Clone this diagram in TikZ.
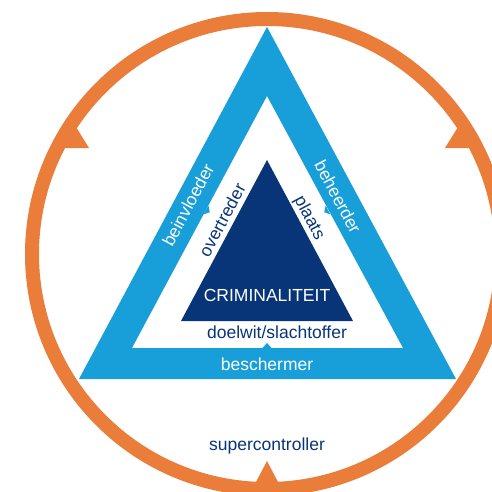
\documentclass[tikz,border=0pt]{standalone}
\usepackage{fontspec}
\setmainfont{Liberation Sans}
\definecolor{oranje}{RGB}{233,125,57}
\definecolor{lichtblauw}{RGB}{24,158,216}
\definecolor{donkerblauw}{RGB}{8,53,120}

\begin{document}
\begin{tikzpicture}[x=1pt, y=-1pt,
	tekst/.style={font=\fontsize{17.5}{20}\selectfont, inner sep=0pt}]
			%%%%% START %%%%%
			\useasboundingbox (0, 0) rectangle (492, 492);
			
			% ring
			\draw[line width=14pt, color=oranje] (267, 254) circle (235pt);
			\fill[oranje] (62, 148) -- (89, 148) -- (76, 127) -- cycle;
			\fill[oranje] (445, 148) -- (472, 148) -- (458, 127) -- cycle;
			\fill[oranje] (256, 482) -- (278, 482) -- (267, 461) -- cycle;
			
			% blauwe driehoek
			\fill[lichtblauw, even odd rule] (267, 27) -- (79, 379) -- (456, 379) -- cycle
				(267, 96) -- (132, 348) -- (403, 348) -- cycle;
			\fill[lichtblauw] (203.6, 214.4) -- (208.4, 205.6) -- (209.8, 212.2) -- cycle;
			\fill[lichtblauw] (330.4, 214.4) -- (325.6, 205.6) -- (324.2, 212.2) -- cycle;
			\fill[lichtblauw] (262, 348.5) -- (272, 348.5) -- (267, 343) -- cycle;
			
			% kern
			\fill[donkerblauw] (267, 160) -- (181, 321) -- (353, 321) -- cycle;
			
			\node[tekst, white] (crim) at (267, 295) {CRIMINALITEIT};
			\node[tekst, donkerblauw] (doelwit) at (277, 332) {doelwit/slachtoffer};
			\node[tekst, white] (beschermer) at (267, 364) {beschermer};
			\node[tekst, donkerblauw] (super) at (267, 446) {supercontroller};
			
			\node[tekst, white, rotate=62] (beinvloeder) at (188, 205) {beinvloeder};
			\node[tekst, donkerblauw, rotate=62] (overtreder) at (222, 220) {overtreder};
			\node[tekst, white, rotate=-62] (beheerder) at (338, 197) {beheerder};
			\node[tekst, donkerblauw, rotate=-62] (plaats) at (309, 218) {plaats};
			
			%%%%% END %%%%%
\end{tikzpicture}
\end{document}
